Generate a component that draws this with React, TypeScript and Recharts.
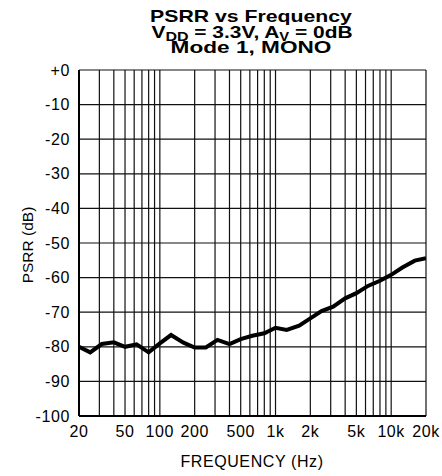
import { CartesianGrid, Line, LineChart, XAxis, YAxis } from 'recharts'

// third-octave frequencies (Hz) and PSRR (dB)
const freqs = [
  20, 25, 31.5, 40, 50, 63, 80, 100, 125, 160, 200, 250, 315, 400, 500, 630,
  800, 1000, 1250, 1600, 2000, 2500, 3150, 4000, 5000, 6300, 8000, 10000,
  12500, 16000, 20000,
]
const psrr = [
  -80, -81.6, -79.2, -78.7, -80, -79.3, -81.6, -79, -76.6, -78.8, -80.2,
  -80.2, -78, -79.2, -77.8, -76.8, -76.1, -74.5, -75.1, -73.9, -71.8, -69.7,
  -68.4, -66, -64.5, -62.4, -60.9, -59.2, -57.1, -55.1, -54.4,
]

const xGrid = [
  20, 30, 40, 50, 60, 70, 80, 90, 100, 200, 300, 400, 500, 600, 700, 800, 900,
  1000, 2000, 3000, 4000, 5000, 6000, 7000, 8000, 9000, 10000, 20000,
]
const xLabels: Record<number, string> = {
  20: '20',
  50: '50',
  100: '100',
  200: '200',
  500: '500',
  1000: '1k',
  2000: '2k',
  5000: '5k',
  10000: '10k',
  20000: '20k',
}
const yTicks = [0, -10, -20, -30, -40, -50, -60, -70, -80, -90, -100]

const data = freqs.map((f, i) => ({ f, psrr: psrr[i] }))

const font = 'Arial, "Liberation Sans", Helvetica, sans-serif'
const tickStyle = { fontSize: 16, fill: '#000', fontFamily: font, letterSpacing: 0.6 }

export default function App() {
  return (
    <div style={{ position: 'absolute', left: 0, top: 0, width: 442, height: 476, background: '#fff' }}>
      <LineChart
        width={442}
        height={476}
        data={data}
        margin={{ top: 70, right: 16, bottom: 30, left: 0 }}
      >
        <CartesianGrid stroke="#111" strokeWidth={1.2} />
        <XAxis
          dataKey="f"
          type="number"
          scale="log"
          domain={[20, 20000]}
          ticks={xGrid}
          interval={0}
          tickFormatter={(v: number) => xLabels[v] ?? ''}
          tick={tickStyle}
          tickLine={false}
          tickSize={6}
          tickMargin={4}
          height={30}
          axisLine={{ stroke: '#000', strokeWidth: 2 }}
          allowDataOverflow
        />
        <XAxis
          xAxisId="top"
          orientation="top"
          type="number"
          scale="log"
          domain={[20, 20000]}
          tick={false}
          tickLine={false}
          height={0}
          axisLine={{ stroke: '#000', strokeWidth: 2 }}
        />
        <YAxis
          type="number"
          domain={[-100, 0]}
          ticks={yTicks}
          interval={0}
          tickFormatter={(v: number) => (v === 0 ? '+0' : String(v))}
          tick={tickStyle}
          tickLine={false}
          tickSize={6}
          tickMargin={3}
          width={79}
          axisLine={{ stroke: '#000', strokeWidth: 2 }}
        />
        <YAxis
          yAxisId="right"
          orientation="right"
          type="number"
          domain={[-100, 0]}
          tick={false}
          tickLine={false}
          width={0}
          axisLine={{ stroke: '#000', strokeWidth: 2 }}
        />
        <Line
          dataKey="psrr"
          type="linear"
          stroke="#000"
          strokeWidth={4}
          dot={false}
          isAnimationActive={false}
        />
      </LineChart>
      <svg
        width={442}
        height={476}
        style={{ position: 'absolute', left: 0, top: 0, pointerEvents: 'none' }}
        fontFamily={font}
      >
        <g transform="translate(251,0) scale(1.25,1)">
          <text x={0} y={22.5} textAnchor="middle" fontSize={17} fontWeight="bold">
            PSRR vs Frequency
          </text>
        </g>
        <g transform="translate(252,0) scale(1.23,1)">
          <text x={0} y={38} textAnchor="middle" fontSize={17} fontWeight="bold">
            V
            <tspan fontSize={13} dy={3}>DD</tspan>
            <tspan dy={-3}> = 3.3V, A</tspan>
            <tspan fontSize={12} dy={3}>V</tspan>
            <tspan dy={-3}> = 0dB</tspan>
          </text>
        </g>
        <g transform="translate(251,0) scale(1.33,1)">
          <text x={0} y={53} textAnchor="middle" fontSize={17} fontWeight="bold">
            Mode 1, MONO
          </text>
        </g>
        <text x={252} y={467} textAnchor="middle" fontSize={16} letterSpacing={0.6}>
          FREQUENCY (Hz)
        </text>
        <text
          x={0}
          y={0}
          transform="translate(33,245) rotate(-90)"
          textAnchor="middle"
          fontSize={15.5}
        >
          PSRR (dB)
        </text>
      </svg>
    </div>
  )
}
